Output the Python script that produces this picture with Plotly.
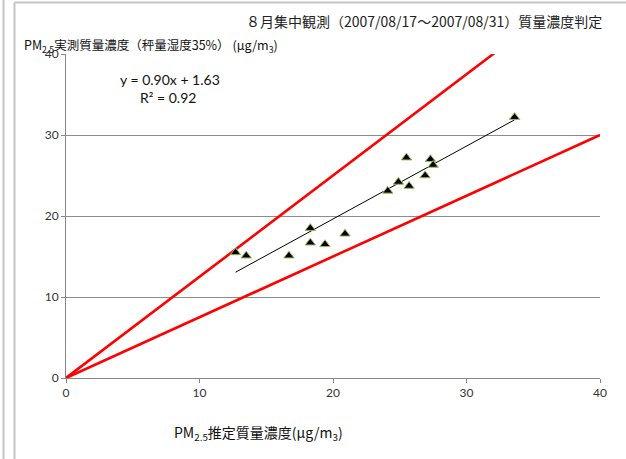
import plotly.graph_objects as go

# Estimated vs. measured PM2.5 mass concentration (ug/m3)
est_conc = [12.7, 13.5, 16.7, 18.3, 18.3, 19.4, 20.9, 24.1, 24.9, 25.7, 25.5, 26.9, 27.3, 27.5, 33.6]
meas_conc = [15.5, 15.1, 15.1, 18.5, 16.7, 16.5, 17.8, 23.1, 24.2, 23.7, 27.2, 25.0, 27.0, 26.3, 32.2]

# Regression result shown on the chart
fit_slope = 0.90
fit_intercept = 1.63
fit_r2 = 0.92

# Judgement bounds (+/-25 %)
upper_ratio = 1.25
lower_ratio = 0.75
axis_max = 40
tick_vals = [0, 10, 20, 30, 40]

W, H = 626, 459
ML, MR, MT, MB = 66, 26, 54, 81
PW, PH = W - ML - MR, H - MT - MB


def px(x):
    return (x - ML) / PW


def py(y):
    return (H - MB - y) / PH


fig = go.Figure()

# Bound lines through the origin
fig.add_trace(go.Scatter(x=[0, axis_max], y=[0, upper_ratio * axis_max], mode="lines",
                         line=dict(color="#ff0000", width=2.6), hoverinfo="skip"))
fig.add_trace(go.Scatter(x=[0, axis_max], y=[0, lower_ratio * axis_max], mode="lines",
                         line=dict(color="#ff0000", width=2.6), hoverinfo="skip"))

# Linear trend line over the data range
x0, x1 = min(est_conc), max(est_conc)
fig.add_trace(go.Scatter(x=[x0, x1], y=[fit_slope * x0 + fit_intercept, fit_slope * x1 + fit_intercept],
                         mode="lines", line=dict(color="#000000", width=1), hoverinfo="skip"))

# Observations
fig.add_trace(go.Scatter(x=est_conc, y=meas_conc, mode="markers",
                         marker=dict(symbol="triangle-up", size=9, color="#000000",
                                     line=dict(color="#9bbb59", width=1))))

axis_common = dict(range=[0, axis_max], tickvals=tick_vals, showgrid=False, zeroline=False,
                   showline=True, linecolor="#868686", linewidth=1,
                   ticks="outside", ticklen=4, tickcolor="#868686",
                   tickfont=dict(family="Lato, Open Sans, sans-serif", size=12, color="#333333"))

fig.update_xaxes(**axis_common)
fig.update_yaxes(**axis_common)
fig.update_yaxes(showgrid=True, gridcolor="#8c8c8c", gridwidth=1)

cjk = "Noto Sans CJK JP, sans-serif"
annotations = [
    dict(text="８月集中観測（2007/08/17～2007/08/31）質量濃度判定", x=px(604), y=py(21),
         xanchor="right", yanchor="middle", font=dict(family=cjk, size=14, color="#222222")),
    dict(text="PM<sub>2.5</sub>実測質量濃度（秤量湿度35%） (μg/m<sub>3</sub>)", x=px(22), y=py(45),
         xanchor="left", yanchor="middle", font=dict(family=cjk, size=12.5, color="#111111")),
    dict(text="PM<sub>2.5</sub>推定質量濃度(μg/m<sub>3</sub>)", x=px(172), y=py(433),
         xanchor="left", yanchor="middle", font=dict(family=cjk, size=14, color="#111111")),
    dict(text=f"y = {fit_slope:.2f}x + {fit_intercept:.2f}", x=px(170), y=py(79),
         xanchor="center", yanchor="middle", font=dict(family="Lato, sans-serif", size=14, color="#111111")),
    dict(text=f"R² = {fit_r2:.2f}", x=px(168), y=py(97),
         xanchor="center", yanchor="middle", font=dict(family="Lato, sans-serif", size=14, color="#111111")),
]
for a in annotations:
    a.update(xref="paper", yref="paper", showarrow=False)

# Surrounding frame lines
frame = [
    dict(type="line", x0=px(3.5), x1=px(3.5), y0=py(0), y1=py(H)),
    dict(type="line", x0=px(14.5), x1=px(14.5), y0=py(2.5), y1=py(H)),
    dict(type="line", x0=px(14.5), x1=px(W), y0=py(2.5), y1=py(2.5)),
]
for s in frame:
    s.update(xref="paper", yref="paper", line=dict(color="#c4c4c4", width=2), layer="below")

fig.update_layout(width=W, height=H, margin=dict(l=ML, r=MR, t=MT, b=MB),
                  paper_bgcolor="white", plot_bgcolor="white", showlegend=False,
                  annotations=annotations, shapes=frame)

fig.write_html("out.html")
